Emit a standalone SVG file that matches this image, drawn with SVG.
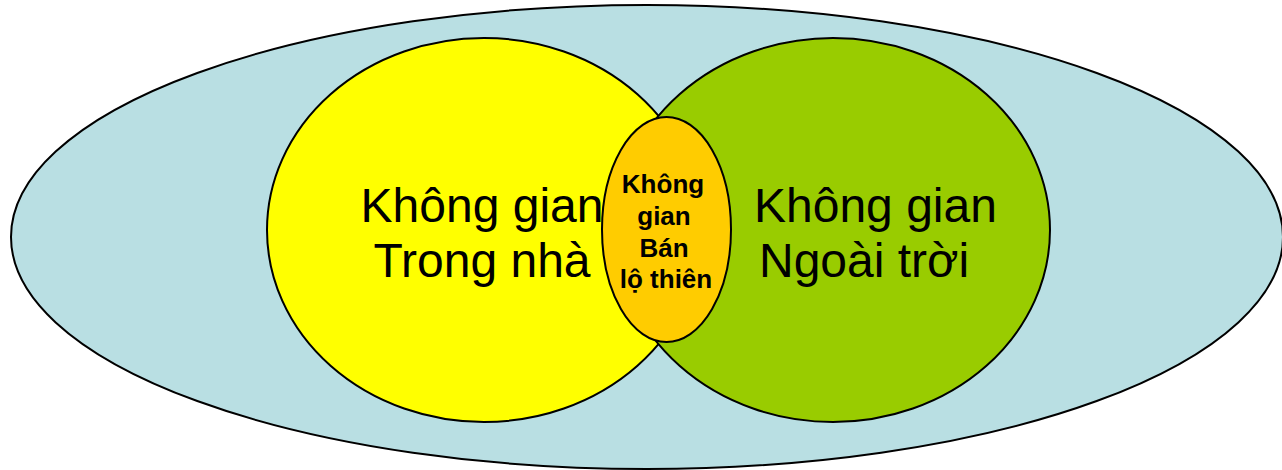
<svg xmlns="http://www.w3.org/2000/svg" width="1282" height="470" viewBox="0 0 1282 470">
<style>
.sh{stroke:#000;stroke-width:2}
.big{font-family:"Liberation Sans",Arial,sans-serif;font-size:48px;fill:#000}
.small{font-family:"Liberation Sans",Arial,sans-serif;font-size:26px;font-weight:bold;fill:#000;text-anchor:middle}
</style>
<rect width="1282" height="470" fill="#fff"/>
<g id="outer">
<ellipse class="sh" cx="647" cy="237" rx="636" ry="232" fill="#B9DFE3"/>
</g>
<g id="indoor">
<ellipse class="sh" cx="484" cy="230" rx="217" ry="192" fill="#FFFF00"/>
</g>
<g id="outdoor">
<ellipse class="sh" cx="833" cy="230" rx="217" ry="192" fill="#99CC00"/>
</g>
<g id="indoor-text">
<text class="big" x="482" y="222" text-anchor="middle">Không gian</text>
<text class="big" x="482" y="277" text-anchor="middle">Trong nhà</text>
</g>
<g id="outdoor-text">
<text class="big" x="754" y="222">Không gian</text>
<text class="big" x="759" y="277">Ngoài trời</text>
</g>
<g id="semi">
<ellipse class="sh" cx="666.5" cy="229.5" rx="64.5" ry="112.5" fill="#FFCC00"/>
<text class="small" x="663" y="193">Không</text>
<text class="small" x="664" y="225">gian</text>
<text class="small" x="664" y="257">Bán</text>
<text class="small" x="666" y="288">lộ thiên</text>
</g>
<g id="connectors"></g>
</svg>
